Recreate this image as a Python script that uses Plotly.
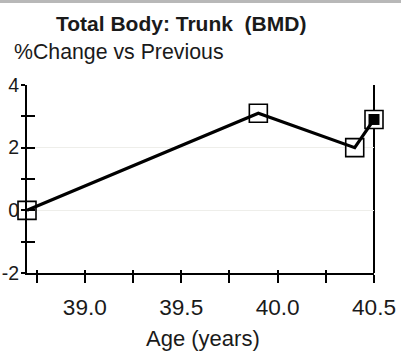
import plotly.graph_objects as go

# Scan ages and % change in trunk BMD versus the previous scan
age_years = [38.70, 39.90, 40.40, 40.50]
pct_change = [0.0, 3.1, 2.0, 2.9]
is_latest = [False, False, False, True]

x_tickvals = [38.75, 39.0, 39.25, 39.5, 39.75, 40.0, 40.25, 40.5]
x_ticktext = ["", "39.0", "", "39.5", "", "40.0", "", "40.5"]
y_tickvals = [-2, -1, 0, 1, 2, 3, 4]
y_ticktext = ["-2", "", "0", "", "2", "", "4"]
y_gridvals = [0, 2, 4]

W, H = 401, 354
L, R, T, B = 27, 27, 85, 81
FONT = "Arial, Liberation Sans, sans-serif"

def px_x(p):
    return (p - L) / (W - L - R)

def px_y(p):
    return 1 - (p - T) / (H - T - B)

fig = go.Figure()

latest = [i for i, f in enumerate(is_latest) if f]

# open square markers (drawn beneath the connecting line)
fig.add_trace(go.Scatter(
    x=age_years, y=pct_change,
    mode="markers", cliponaxis=False,
    marker=dict(symbol="square", size=18, color="white",
                line=dict(color="black", width=1.6)),
    hoverinfo="skip", showlegend=False))

# connecting line
fig.add_trace(go.Scatter(
    x=age_years, y=pct_change, mode="lines", cliponaxis=False,
    line=dict(color="black", width=3.2),
    hoverinfo="skip", showlegend=False))

# solid fill for the most recent scan
fig.add_trace(go.Scatter(
    x=[age_years[i] for i in latest], y=[pct_change[i] for i in latest],
    mode="markers", cliponaxis=False,
    marker=dict(symbol="square", size=11, color="black",
                line=dict(color="black", width=0)),
    hoverinfo="skip", showlegend=False))

axis_common = dict(showgrid=False, zeroline=False, linecolor="black",
                   linewidth=2, tickcolor="black", tickwidth=1.6,
                   automargin=False)

fig.update_layout(
    width=W, height=H,
    margin=dict(l=L, r=R, t=T, b=B, pad=0),
    paper_bgcolor="white", plot_bgcolor="white",
    font=dict(family=FONT, size=22, color="#1a1a1a"),
    xaxis=dict(range=[38.70, 40.5], tickmode="array", tickvals=x_tickvals,
               ticktext=x_ticktext, ticks="outside", ticklen=8,
               showline=True, ticklabelstandoff=5,
               tickfont=dict(size=22.6), **axis_common),
    xaxis2=dict(range=[38.70, 40.5], overlaying="x", tickmode="array",
                tickvals=x_tickvals, ticks="inside", ticklen=3,
                showticklabels=False, showline=False, side="bottom",
                anchor="y", showgrid=False, zeroline=False,
                tickcolor="black", tickwidth=1.6, automargin=False),
    yaxis=dict(range=[-2, 4], tickmode="array", tickvals=y_tickvals,
               ticktext=y_ticktext, ticks="outside", ticklen=4,
               showline=True, ticklabelstandoff=-2,
               tickfont=dict(size=19.5), **axis_common),
    yaxis2=dict(range=[-2, 4], overlaying="y", tickmode="array",
                tickvals=y_tickvals, ticks="inside", ticklen=8,
                showticklabels=False, showline=False, side="left",
                anchor="x", showgrid=False, zeroline=False,
                tickcolor="black", tickwidth=1.6, automargin=False),
    yaxis3=dict(range=[-2, 4], overlaying="y", tickmode="array",
                tickvals=y_gridvals, ticks="", showticklabels=False,
                showline=False, side="left", anchor="x",
                showgrid=True, gridcolor="#eeeeea", gridwidth=1,
                zeroline=False, automargin=False, layer="below traces"),
    shapes=[
        # right-hand frame edge
        dict(type="line", xref="paper", yref="paper", x0=1, x1=1,
             y0=0, y1=1, line=dict(color="black", width=2), layer="below"),
        # grey strip along the top edge
        dict(type="rect", xref="paper", yref="paper", x0=px_x(0), x1=px_x(W),
             y0=px_y(3), y1=px_y(0), fillcolor="#b8b8b8",
             line=dict(width=0), layer="below"),
    ],
    annotations=[
        dict(text="<b>Total Body: Trunk  (BMD)</b>", xref="paper", yref="paper",
             x=px_x(181), y=px_y(23), xanchor="center", yanchor="middle",
             showarrow=False, font=dict(size=21, family=FONT)),
        dict(text="%Change vs Previous", xref="paper", yref="paper",
             x=px_x(12), y=px_y(52), xanchor="left", yanchor="middle",
             showarrow=False, font=dict(size=21.3, family=FONT)),
        dict(text="Age (years)", xref="paper", yref="paper",
             x=px_x(203), y=px_y(338), xanchor="center", yanchor="middle",
             showarrow=False, font=dict(size=22, family=FONT)),
    ],
)

# bind the overlay axes to empty traces so they render
fig.add_trace(go.Scatter(x=[None], y=[None], xaxis="x2", yaxis="y2",
                         showlegend=False, hoverinfo="skip"))
fig.add_trace(go.Scatter(x=[None], y=[None], xaxis="x", yaxis="y3",
                         showlegend=False, hoverinfo="skip"))

fig.write_html("out.html")
